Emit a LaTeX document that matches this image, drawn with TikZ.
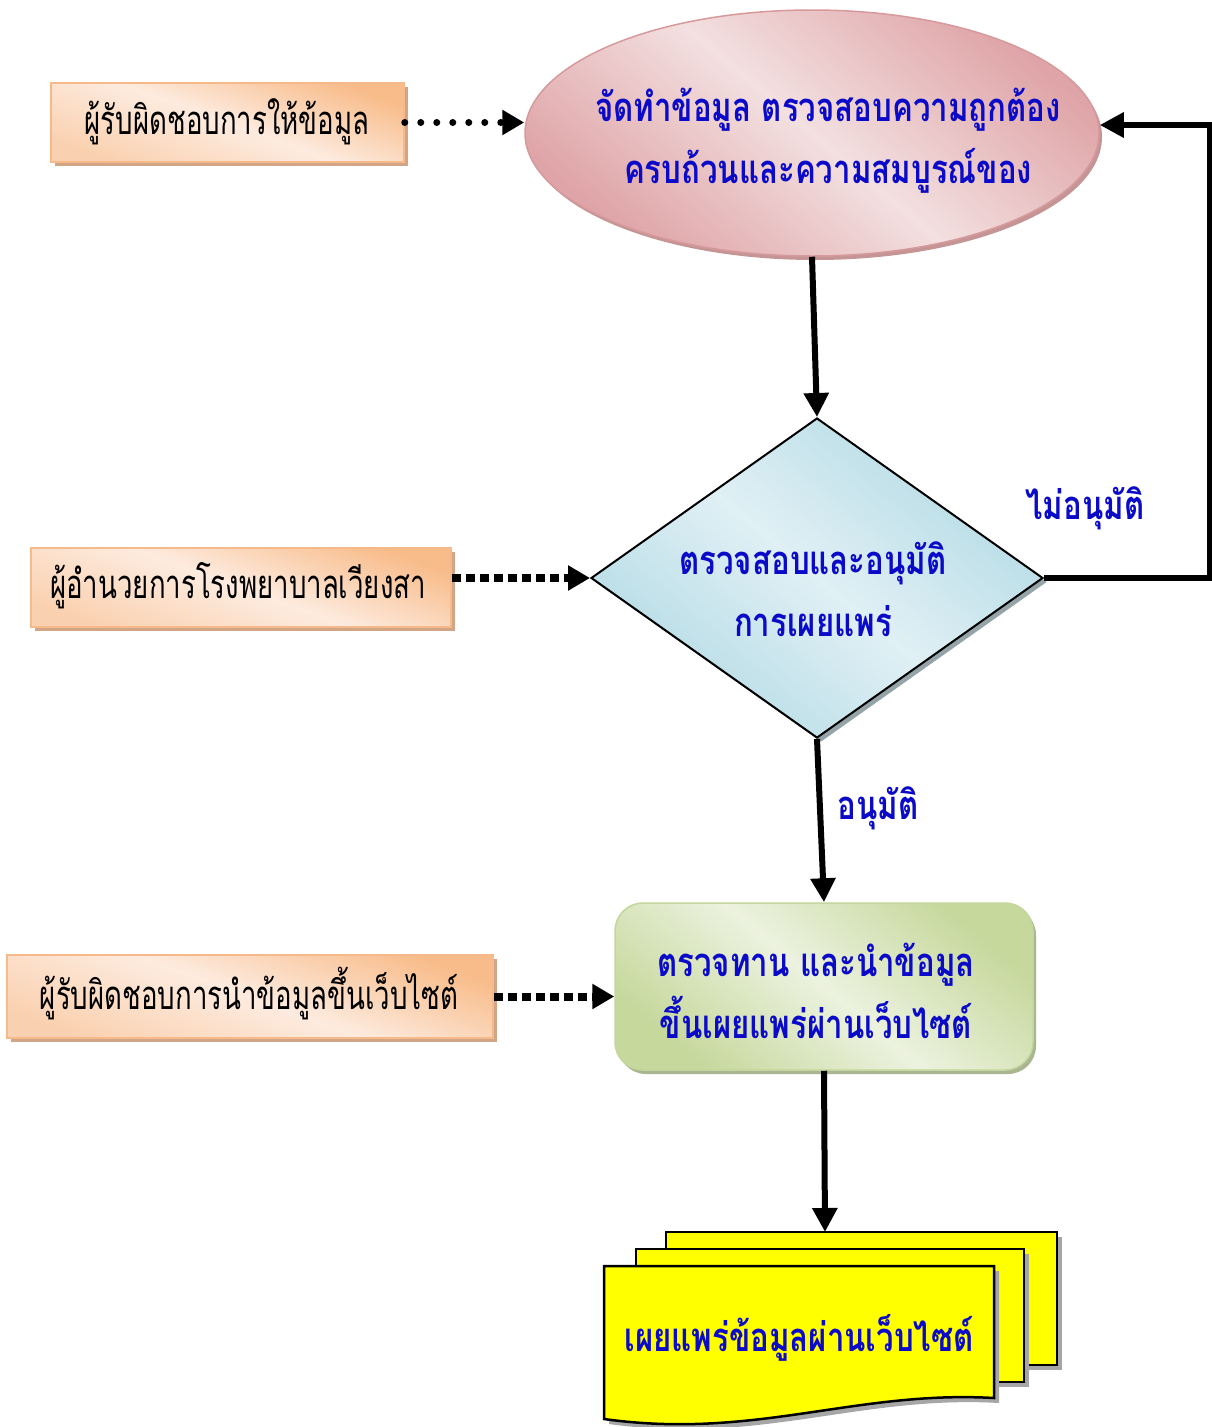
\documentclass[tikz,border=0pt]{standalone}
\usepackage{fontspec}
\newfontfamily\thai[Script=Thai,FakeStretch=0.69]{Loma}
\newfontfamily\thaib[Script=Thai,FakeStretch=0.78]{Loma}
\usetikzlibrary{shapes.geometric,arrows.meta,shadows,calc}
\definecolor{tblue}{RGB}{10,10,200}
\definecolor{orA}{HTML}{F8BC8A}
\definecolor{orB}{HTML}{FDEBDF}
\definecolor{orLine}{HTML}{F6B98A}
\definecolor{orSh}{HTML}{D2A587}
\definecolor{pkA}{HTML}{DFA4A7}
\definecolor{pkB}{HTML}{F3E0E0}
\definecolor{pkLine}{HTML}{D79A9C}
\definecolor{blA}{HTML}{B3DAE4}
\definecolor{blB}{HTML}{E0F0F5}
\definecolor{grA}{HTML}{C6D89C}
\definecolor{grB}{HTML}{ECF2DF}
\definecolor{grLine}{HTML}{C3D69B}
\definecolor{docyel}{RGB}{255,255,0}
\begin{document}
\begin{tikzpicture}[x=1pt,y=-1pt,
  resp/.style={rectangle,draw=orLine,line width=1.5pt,inner sep=0pt,
    top color=orA,bottom color=orA!55!orB,middle color=orB,shading angle=-20,
    drop shadow={shadow xshift=4pt,shadow yshift=-4pt,fill=orSh,opacity=1}},
  blk/.style={font=\thai\fontsize{40}{48}\selectfont,text=black,align=center},
  blu/.style={font=\thaib\bfseries\fontsize{40}{62}\selectfont,text=tblue,align=center},
  flow/.style={line width=6pt,-{Triangle[length=24pt,width=24pt]}},
  rdots/.style={line width=7pt,line cap=round,dash pattern=on 0pt off 16pt,-{Triangle[length=22pt,width=24pt]}},
  sdots/.style={line width=8pt,dash pattern=on 9pt off 5pt,-{Triangle[length=22pt,width=24pt]}},
  page/.style={fill=docyel,draw=black,line width=2.5pt},
  pagesh/.style={fill=gray!70,draw=none}
]
\useasboundingbox[fill=white] (0,0) rectangle (1212,1427);

% ellipse
\node[ellipse,minimum width=574pt,minimum height=246pt,inner sep=0pt,draw=pkLine,line width=1.5pt,
  top color=pkA,bottom color=pkA,middle color=pkB,shading angle=-40,
  drop shadow={shadow xshift=3pt,shadow yshift=-4pt,fill=pkLine!80!gray,opacity=1}] (e) at (812,133) {};
\node[blu] (et) at (828,141) {จัดทำข้อมูล ตรวจสอบความถูกต้อง\\ครบถ้วนและความสมบูรณ์ของ};

% diamond
\node[diamond,minimum width=452pt,minimum height=320pt,inner sep=0pt,draw=black,line width=2pt,
  top color=blA,bottom color=blA,middle color=blB,shading angle=-40,
  drop shadow={shadow xshift=4pt,shadow yshift=-4pt,fill=gray!60!blA,opacity=1}] (d) at (817,578) {};
\node[blu] (dt) at (813,589) {ตรวจสอบและอนุมัติ\\การเผยแพร่};

% green rounded box
\node[rectangle,rounded corners=28pt,minimum width=418pt,minimum height=167pt,inner sep=0pt,
  draw=grLine,line width=1.5pt,top color=grA,bottom color=grA,middle color=grB,shading angle=-40,
  drop shadow={shadow xshift=3pt,shadow yshift=-4pt,fill=gray!40!grA,opacity=1}] (g) at (824,986.5) {};
\node[blu] (gt) at (816,991) {ตรวจทาน และนำข้อมูล\\ขึ้นเผยแพร่ผ่านเว็บไซต์};

% responsible boxes
\node[resp,minimum width=353pt,minimum height=79pt] (b1) at (227.5,122.5) {};
\node[blk] (b1t) at (227,122) {ผู้รับผิดชอบการให้ข้อมูล};
\node[resp,minimum width=420pt,minimum height=79pt] (b2) at (241,587.5) {};
\node[blk] (b2t) at (238,586) {ผู้อำนวยการโรงพยาบาลเวียงสา};
\node[resp,minimum width=486pt,minimum height=83pt] (b3) at (250,996.5) {};
\node[blk] (b3t) at (249,994) {ผู้รับผิดชอบการนำข้อมูลขึ้นเว็บไซต์};

% multi-document
\fill[pagesh] (671,1237) rectangle (1062,1370);
\draw[page] (666,1232) rectangle (1057,1365);
\fill[pagesh] (641,1254) rectangle (1029,1387);
\draw[page] (636,1249) rectangle (1024,1382);
\fill[pagesh] (609,1271) -- (999,1271) -- (999,1403) .. controls (860,1395) and (760,1445) .. (609,1424) -- cycle;
\draw[page] (604,1266) -- (994,1266) -- (994,1398) .. controls (855,1390) and (755,1440) .. (604,1419) -- cycle;
\coordinate (doc) at (825,1232);
\node[blu] (doct) at (799,1338) {เผยแพร่ข้อมูลผ่านเว็บไซต์};

% connectors
\draw[rdots] (b1.east) -- (b1.east -| e.west);
\draw[sdots] (b2.east |- d.west) -- (d.west);
\draw[sdots] (b3.east) -- (b3.east -| g.west);
\draw[flow] (e.south) -- (d.north);
\draw[flow] (d.south) -- (g.north);
\draw[flow] (g.south) -- (doc);
\coordinate (fb) at (1210,578);
\draw[flow] (d.east) -- (fb) |- ($(e.east)+(0,-8)$);
\node[blu] (no) at (1085,508) {ไม่อนุมัติ};
\node[blu] (yes) at (878,808) {อนุมัติ};
\end{tikzpicture}
\end{document}
